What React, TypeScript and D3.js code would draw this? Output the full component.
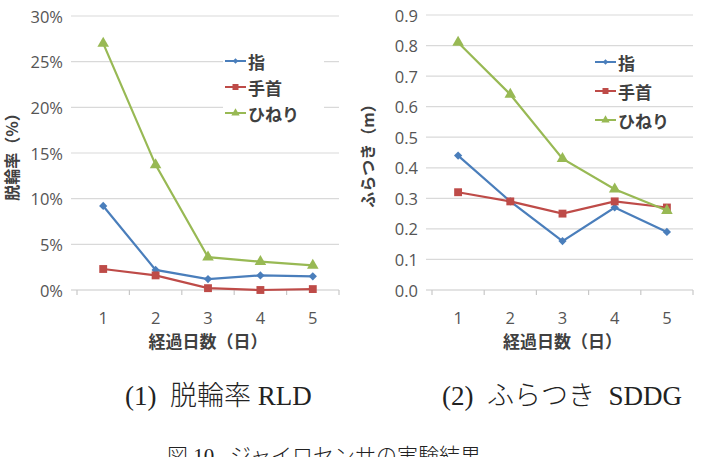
import React from "react";
import * as d3 from "d3";

// days since start (x categories)
const days = [1, 2, 3, 4, 5];
const seriesNames = ["指", "手首", "ひねり"];
const seriesColors = ["#4a7ebb", "#be4b48", "#98b954"];

// 脱輪率 RLD (%)
const rldFinger = [9.2, 2.2, 1.2, 1.6, 1.5];
const rldWrist = [2.3, 1.6, 0.2, 0.0, 0.1];
const rldTwist = [27.0, 13.7, 3.6, 3.1, 2.7];
const rldTicks = [0, 5, 10, 15, 20, 25, 30];

// ふらつき SDDG (m)
const sddgFinger = [0.44, 0.29, 0.16, 0.27, 0.19];
const sddgWrist = [0.32, 0.29, 0.25, 0.29, 0.27];
const sddgTwist = [0.81, 0.64, 0.43, 0.33, 0.26];
const sddgTicks = [0, 0.1, 0.2, 0.3, 0.4, 0.5, 0.6, 0.7, 0.8, 0.9];

const tickFont = "'Open Sans', 'Noto Sans', sans-serif";
const jpFont = "'Noto Sans CJK JP', sans-serif";
const serifFont = "'Liberation Serif', 'Noto Sans CJK JP', serif";

const BOTTOM = 290;

// marker shapes: diamond, square, triangle
const markerPath = (i: number, small: boolean) => {
  if (i === 0) return d3.symbol(d3.symbolSquare, small ? 16 : 34)();
  if (i === 1) return d3.symbol(d3.symbolSquare, small ? 36 : 62)();
  return d3.symbol(d3.symbolTriangle, small ? 30 : 58)();
};
const markerRotate = (i: number) => (i === 0 ? 45 : 0);

type PanelProps = {
  xRange: [number, number];
  top: number;
  yMax: number;
  ticks: number[];
  fmt: (v: number) => string;
  series: number[][];
  yTitle: string;
  yTitleX: number;
  yTitleY: number;
  legendX: number;
  legendRows: number[];
  legendBox?: [number, number, number, number];
};

const Panel = (p: PanelProps) => {
  const x = d3.scaleBand<number>().domain(days).range(p.xRange);
  const cx = (d: number) => (x(d) as number) + x.bandwidth() / 2;
  const y = d3.scaleLinear().domain([0, p.yMax]).range([BOTTOM, p.top]);
  const line = d3
    .line<number>()
    .x((_, i) => cx(days[i]))
    .y((v) => y(v));
  const [x0, x1] = p.xRange;
  const bounds = [...days.map((d) => x(d) as number), x1];

  return (
    <g>
      {p.ticks.slice(1).map((t) => (
        <line key={t} x1={x0 - 6} x2={x1} y1={y(t)} y2={y(t)} stroke="#d9d9d9" strokeWidth={1.2} />
      ))}
      <line x1={x0 - 6} x2={x1} y1={BOTTOM} y2={BOTTOM} stroke="#c8c8c8" strokeWidth={1.2} />
      {bounds.map((b, i) => (
        <line key={i} x1={b} x2={b} y1={BOTTOM} y2={BOTTOM + 5} stroke="#c8c8c8" strokeWidth={1.2} />
      ))}
      {p.ticks.map((t) => (
        <text
          key={t}
          x={x0 - 14}
          y={y(t)}
          textAnchor="end"
          dominantBaseline="central"
          fontFamily={tickFont}
          fontSize={16.5}
          fill="#555"
        >
          {p.fmt(t)}
        </text>
      ))}
      {days.map((d) => (
        <text
          key={d}
          x={cx(d)}
          y={317}
          textAnchor="middle"
          dominantBaseline="central"
          fontFamily={tickFont}
          fontSize={16.5}
          fill="#555"
        >
          {d}
        </text>
      ))}
      <text
        x={(x0 + x1) / 2}
        y={340}
        textAnchor="middle"
        dominantBaseline="central"
        fontFamily={jpFont}
        fontWeight="bold"
        fontSize={17}
        fill="#404040"
      >
        経過日数（日）
      </text>
      <text
        transform={`translate(${p.yTitleX},${p.yTitleY}) rotate(-90)`}
        textAnchor="middle"
        dominantBaseline="central"
        fontFamily={jpFont}
        fontWeight="bold"
        fontSize={16}
        fill="#404040"
      >
        {p.yTitle}
      </text>

      {p.series.map((vals, i) => (
        <g key={i}>
          <path d={line(vals) || ""} fill="none" stroke={seriesColors[i]} strokeWidth={2.2} />
          {vals.map((v, j) => (
            <path
              key={j}
              d={markerPath(i, false) || ""}
              transform={`translate(${cx(days[j])},${y(v)}) rotate(${markerRotate(i)})`}
              fill={seriesColors[i]}
            />
          ))}
        </g>
      ))}

      {p.legendBox && (
        <rect x={p.legendBox[0]} y={p.legendBox[1]} width={p.legendBox[2]} height={p.legendBox[3]} fill="#fff" />
      )}
      {seriesNames.map((name, i) => (
        <g key={name} transform={`translate(${p.legendX},${p.legendRows[i]})`}>
          <line x1={0} x2={21} y1={0} y2={0} stroke={seriesColors[i]} strokeWidth={2} />
          <path
            d={markerPath(i, true) || ""}
            transform={`translate(10.5,0) rotate(${markerRotate(i)})`}
            fill={seriesColors[i]}
          />
          <text
            x={23}
            y={0}
            dominantBaseline="central"
            fontFamily={jpFont}
            fontWeight="bold"
            fontSize={17}
            fill="#404040"
          >
            {name}
          </text>
        </g>
      ))}
    </g>
  );
};

const App = () => {
  const pct = (v: number) => `${v}%`;
  const dec = (v: number) => v.toFixed(1);
  return (
    <svg
      width={701}
      height={457}
      style={{ position: "absolute", left: 0, top: 0, background: "#fff" }}
    >
      <rect width={701} height={457} fill="#fff" />
      <Panel
        xRange={[77, 339]}
        top={16}
        yMax={30}
        ticks={rldTicks}
        fmt={pct}
        series={[rldFinger, rldWrist, rldTwist]}
        yTitle="脱輪率（%）"
        yTitleX={11}
        yTitleY={153}
        legendX={225}
        legendRows={[61, 87, 113]}
        legendBox={[223, 48, 101, 78]}
      />
      <Panel
        xRange={[432, 693]}
        top={15}
        yMax={0.9}
        ticks={sddgTicks}
        fmt={dec}
        series={[sddgFinger, sddgWrist, sddgTwist]}
        yTitle="ふらつき（m）"
        yTitleX={367}
        yTitleY={152}
        legendX={595}
        legendRows={[62, 91, 120]}
      />
      <text x={125} y={405} fontFamily={serifFont} fontSize={27} fontWeight={300} fill="#222" style={{ whiteSpace: "pre" }}>
        {"(1)  脱輪率 RLD"}
      </text>
      <text x={442} y={405} fontFamily={serifFont} fontSize={27} fontWeight={300} fill="#222" style={{ whiteSpace: "pre" }}>
        {"(2)  ふらつき  SDDG"}
      </text>
      <text x={167} y={463} fontFamily={serifFont} fontSize={21} fontWeight={300} fill="#222" style={{ whiteSpace: "pre" }}>
        {"図 10   ジャイロセンサの実験結果"}
      </text>
    </svg>
  );
};

export default App;
